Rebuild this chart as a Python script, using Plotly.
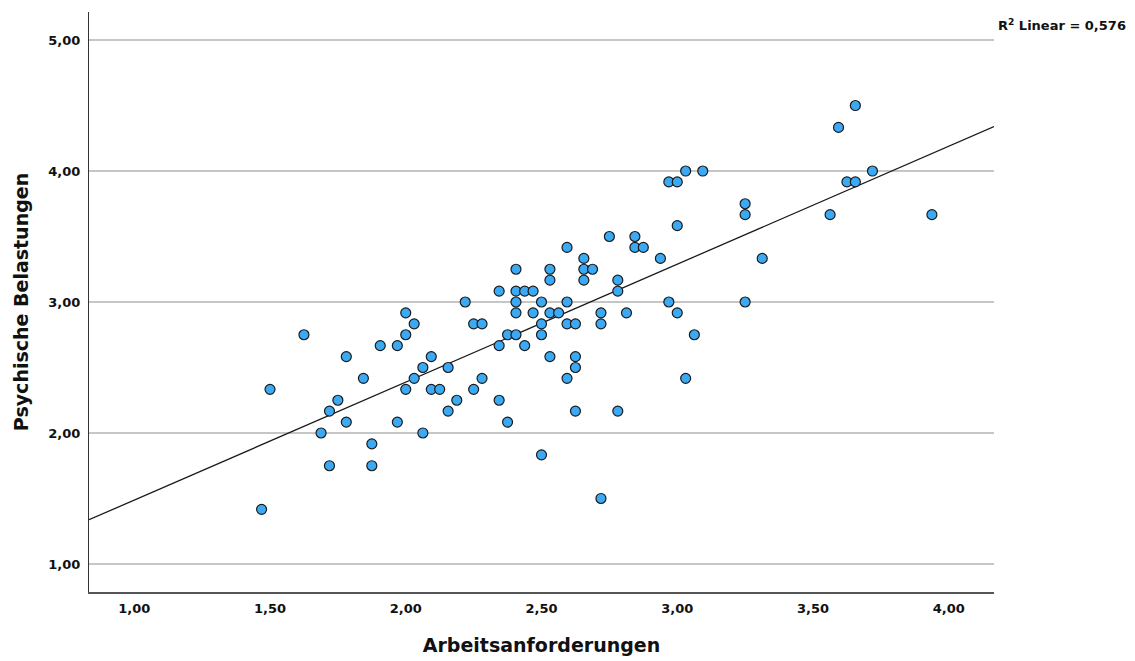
import numpy as np
import plotly.graph_objects as go

# Arbeitsanforderungen (x) and Psychische Belastungen (y), one entry per respondent
arbeitsanforderungen = [
    1.469, 1.500, 1.625, 1.688, 1.719, 1.719, 1.750, 1.781, 1.781, 1.844,
    1.875, 1.875, 1.906, 1.969, 1.969, 2.000, 2.000, 2.000, 2.031, 2.031,
    2.063, 2.063, 2.094, 2.094, 2.125, 2.156, 2.156, 2.188, 2.219, 2.250,
    2.250, 2.281, 2.281, 2.344, 2.344, 2.344, 2.375, 2.375, 2.406, 2.406,
    2.406, 2.406, 2.406, 2.438, 2.438, 2.469, 2.469, 2.500, 2.500, 2.500,
    2.500, 2.531, 2.531, 2.531, 2.531, 2.563, 2.594, 2.594, 2.594, 2.594,
    2.625, 2.625, 2.625, 2.625, 2.656, 2.656, 2.656, 2.688, 2.719, 2.719,
    2.719, 2.750, 2.781, 2.781, 2.781, 2.813, 2.844, 2.844, 2.875, 2.938,
    2.969, 2.969, 3.000, 3.000, 3.000, 3.031, 3.031, 3.063, 3.094, 3.250,
    3.250, 3.250, 3.313, 3.563, 3.594, 3.625, 3.656, 3.656, 3.719, 3.938,
]
psychische_belastungen = [
    1.417, 2.333, 2.750, 2.000, 2.167, 1.750, 2.250, 2.583, 2.083, 2.417,
    1.917, 1.750, 2.667, 2.667, 2.083, 2.917, 2.750, 2.333, 2.833, 2.417,
    2.500, 2.000, 2.583, 2.333, 2.333, 2.500, 2.167, 2.250, 3.000, 2.833,
    2.333, 2.833, 2.417, 3.083, 2.667, 2.250, 2.750, 2.083, 3.250, 3.083,
    3.000, 2.917, 2.750, 3.083, 2.667, 3.083, 2.917, 3.000, 2.833, 2.750,
    1.833, 3.250, 3.167, 2.917, 2.583, 2.917, 3.417, 3.000, 2.833, 2.417,
    2.833, 2.583, 2.500, 2.167, 3.333, 3.250, 3.167, 3.250, 2.917, 2.833,
    1.500, 3.500, 3.167, 3.083, 2.167, 2.917, 3.500, 3.417, 3.417, 3.333,
    3.917, 3.000, 3.917, 3.583, 2.917, 4.000, 2.417, 2.750, 4.000, 3.750,
    3.667, 3.000, 3.333, 3.667, 4.333, 3.917, 4.500, 3.917, 4.000, 3.667,
]

x_tick_values = [1.0, 1.5, 2.0, 2.5, 3.0, 3.5, 4.0]
y_tick_values = [1.0, 2.0, 3.0, 4.0, 5.0]
r2_label = "R<sup>2</sup> Linear = 0,576"

X_RANGE = [0.8333, 4.1667]
Y_RANGE = [0.786, 5.214]

FONT = "DejaVu Sans"

x = np.array(arbeitsanforderungen)
y = np.array(psychische_belastungen)

# Ordinary least squares fit drawn across the full x range
slope, intercept = np.polyfit(x, y, 1)
fit_x = np.array(X_RANGE)
fit_y = intercept + slope * fit_x

fig = go.Figure()

fig.add_trace(go.Scatter(
    x=fit_x, y=fit_y, mode="lines",
    line=dict(color="#1a1a1a", width=1.3),
    hoverinfo="skip", showlegend=False,
))

fig.add_trace(go.Scatter(
    x=x, y=y, mode="markers",
    marker=dict(size=10, color="#3ba9f3",
                line=dict(color="#1b1b1b", width=1.2)),
    showlegend=False,
))

fig.add_annotation(
    text=r2_label, xref="paper", yref="paper",
    x=1.0, y=0.9776, xanchor="left", yanchor="middle", xshift=2,
    showarrow=False,
    font=dict(family=FONT, size=13, color="#111111", weight="bold"),
)

fig.update_layout(
    width=1135, height=661,
    margin=dict(l=89, r=141, t=12, b=69, pad=0, autoexpand=False),
    paper_bgcolor="white", plot_bgcolor="white",
    separators=",.",
    showlegend=False,
)

fig.update_xaxes(
    range=X_RANGE, tickvals=x_tick_values, tickformat=".2f",
    automargin=False,
    showgrid=False, zeroline=False,
    showline=True, linecolor="#555555", linewidth=1.5,
    ticks="", ticklabelstandoff=4,
    tickfont=dict(family=FONT, size=13, color="#111111", weight="bold"),
    title=dict(text="Arbeitsanforderungen", standoff=23,
               font=dict(family=FONT, size=19, color="#111111", weight="bold")),
)

fig.update_yaxes(
    range=Y_RANGE, tickvals=y_tick_values, tickformat=".2f",
    automargin=False,
    showgrid=True, gridcolor="#c6c6c6", gridwidth=1.5,
    zeroline=False,
    showline=True, linecolor="#333333", linewidth=1.2,
    ticks="", ticklabelstandoff=5,
    tickfont=dict(family=FONT, size=13, color="#111111", weight="bold"),
    title=dict(text="Psychische Belastungen", standoff=14,
               font=dict(family=FONT, size=19, color="#111111", weight="bold")),
)

fig.write_html("out.html")
